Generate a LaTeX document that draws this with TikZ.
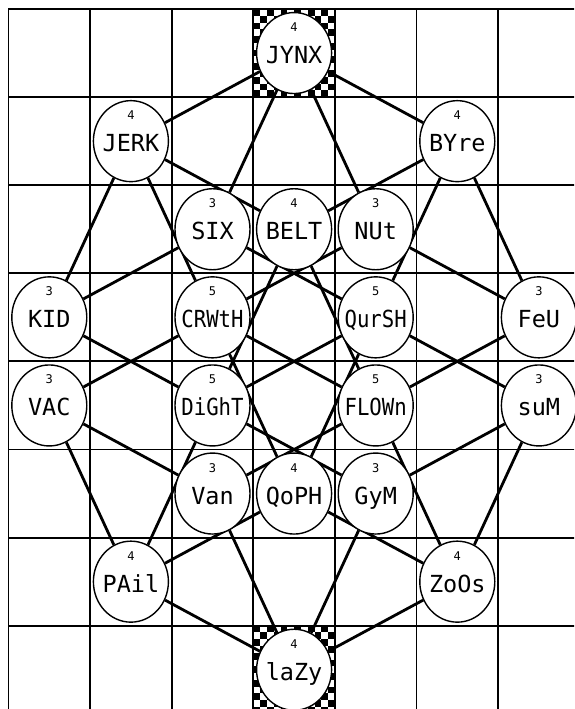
\documentclass[tikz,border=0pt]{standalone}
\usepackage{fontspec}
\usepackage{graphicx}
\usetikzlibrary{shapes.geometric}
\newfontfamily\nodefont{DejaVu Sans Mono}

\pgfdeclarelayer{board}
\pgfdeclarelayer{links}
\pgfsetlayers{board,links,main}

\tikzset{
  vtx/.style={ellipse, draw, line width=1.4pt, fill=white,
    minimum width=75pt, minimum height=81pt, inner sep=0pt},
  vword/.style={anchor=base, inner sep=0pt,
    font=\nodefont\fontsize{23.5}{24}\selectfont},
  vdeg/.style={anchor=base, inner sep=0pt,
    font=\nodefont\fontsize{12}{12}\selectfont},
  link/.style={line width=2.8pt},
  gridline/.style={line width=1.9pt, line cap=rect},
}

% grid geometry: left/top edge and cell size
\def\gx{8.5}
\def\gy{9}
\def\cw{81.6}
\def\ch{88.1}

% #1 name, #2 column, #3 row, #4 degree, #5 word
\newcommand\placevertex[5]{%
  \node[vtx] (#1) at ({\gx+\cw*(#2-0.5)},{\gy+\ch*(#3-0.5)}) {};
  \node[vdeg] (#1-d) at ([yshift=21.5pt]#1.center) {#4};
  \node[vword] (#1-w) at ([yshift=-10.5pt]#1.center) {#5};
}
\newcommand\narrow[1]{\scalebox{0.88}[1]{#1}}

% checkerboard filling one cell: #1 column, #2 row
\newcommand\checkercell[2]{%
  \foreach \i in {0,...,11}{%
    \foreach \j in {0,...,12}{%
      \pgfmathtruncatemacro\sqparity{mod(\i+\j,2)}%
      \ifnum\sqparity=0
        \fill ({\gx+\cw*(#1-1)+6.8*\i},{\gy+\ch*(#2-1)+6.777*\j})
          rectangle ++(6.8,6.777);
      \fi
    }%
  }%
}

\begin{document}
\begin{tikzpicture}[x=1pt,y=-1pt]
\useasboundingbox (0,0) rectangle (574,709);

\begin{pgfonlayer}{board}
  \begin{scope}
    \clip (0,0) rectangle (574,709);
    \checkercell{4}{1}
    \checkercell{4}{8}
    \foreach \k in {0,...,6}
      \draw[gridline] ({\gx+\cw*\k},\gy) -- ({\gx+\cw*\k},712);
    \foreach \k in {0,...,7}
      \draw[gridline] (\gx,{\gy+\ch*\k}) -- (577,{\gy+\ch*\k});
  \end{scope}
\end{pgfonlayer}

\placevertex{jynx}{4}{1}{4}{JYNX}
\placevertex{jerk}{2}{2}{4}{JERK}
\placevertex{byre}{6}{2}{4}{BYre}
\placevertex{six}{3}{3}{3}{SIX}
\placevertex{belt}{4}{3}{4}{BELT}
\placevertex{nut}{5}{3}{3}{NUt}
\placevertex{kid}{1}{4}{3}{KID}
\placevertex{crwth}{3}{4}{5}{\narrow{CRWtH}}
\placevertex{qursh}{5}{4}{5}{\narrow{QurSH}}
\placevertex{feu}{7}{4}{3}{FeU}
\placevertex{vac}{1}{5}{3}{VAC}
\placevertex{dight}{3}{5}{5}{\narrow{DiGhT}}
\placevertex{flown}{5}{5}{5}{\narrow{FLOWn}}
\placevertex{sum}{7}{5}{3}{suM}
\placevertex{van}{3}{6}{3}{Van}
\placevertex{qoph}{4}{6}{4}{QoPH}
\placevertex{gym}{5}{6}{3}{GyM}
\placevertex{pail}{2}{7}{4}{PAil}
\placevertex{zoos}{6}{7}{4}{ZoOs}
\placevertex{lazy}{4}{8}{4}{laZy}

\begin{pgfonlayer}{links}
  \foreach \a/\b in {
    jynx/jerk, jynx/byre, jynx/six, jynx/nut,
    jerk/belt, jerk/crwth, jerk/kid,
    byre/belt, byre/qursh, byre/feu,
    six/qursh, six/kid,
    belt/flown, belt/dight,
    nut/feu, nut/crwth,
    kid/dight,
    crwth/vac, crwth/flown, crwth/qoph,
    qursh/qoph, qursh/dight, qursh/sum,
    feu/flown,
    vac/van, vac/pail,
    dight/gym, dight/pail,
    flown/van, flown/zoos,
    sum/gym, sum/zoos,
    van/lazy,
    qoph/pail, qoph/zoos,
    gym/lazy,
    pail/lazy, zoos/lazy}
    \draw[link] (\a) -- (\b);
\end{pgfonlayer}
\end{tikzpicture}
\end{document}
